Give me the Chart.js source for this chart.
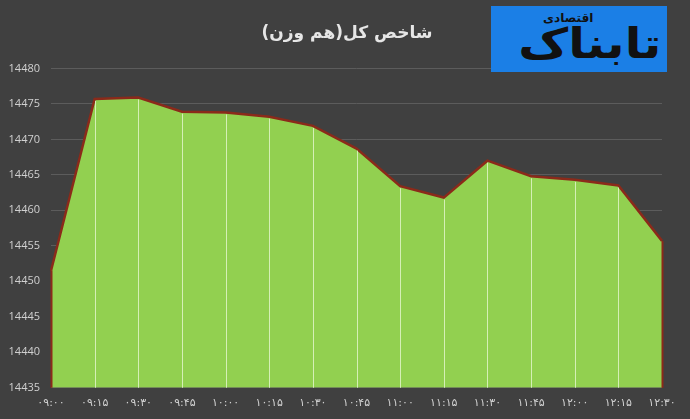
<!DOCTYPE html>
<html>
<head>
<meta charset="utf-8">
<script src="https://cdn.jsdelivr.net/npm/chart.js@4.4.0/dist/chart.umd.min.js"></script>
<style>
  html, body { margin: 0; padding: 0; background: #404040; }
  #wrap { position: relative; width: 690px; height: 419px; }
  #logo {
    position: absolute; left: 491px; top: 6px; width: 176px; height: 66px;
    background: #1b7fe6; overflow: hidden;
  }
  #logo .big {
    position: absolute; right: 6px; top: 13px; font: bold 42px "DejaVu Sans", sans-serif;
    color: #111; direction: rtl; line-height: 50px;
    transform: scaleX(1.16); transform-origin: right center;
  }
  #logo .small {
    position: absolute; left: 52px; top: 5px; font: bold 12px "DejaVu Sans", sans-serif;
    color: #111; direction: rtl;
  }
</style>
</head>
<body>
<div id="wrap">
  <canvas id="chart" width="690" height="419"></canvas>
  <div id="logo"><span class="big">تابناک</span><span class="small">اقتصادی</span></div>
</div>
<script>
var times = ['۰۹:۰۰', '۰۹:۱۵', '۰۹:۳۰', '۰۹:۴۵', '۱۰:۰۰', '۱۰:۱۵', '۱۰:۳۰', '۱۰:۴۵',
             '۱۱:۰۰', '۱۱:۱۵', '۱۱:۳۰', '۱۱:۴۵', '۱۲:۰۰', '۱۲:۱۵', '۱۲:۳۰'];
var indexValues = [14451.5, 14475.7, 14475.9, 14473.9, 14473.8, 14473.2, 14471.9, 14468.7,
                   14463.4, 14461.8, 14467.0, 14464.8, 14464.3, 14463.5, 14455.7];
var yMin = 14435;
var yMax = 14480;
var yStep = 5;
var chartTitle = 'شاخص کل(هم وزن)';

// vertical lines from each point down to the axis
var dropLines = {
  id: 'dropLines',
  afterDatasetsDraw: function(chart) {
    var meta = chart.getDatasetMeta(0);
    var bottom = chart.scales.y.bottom;
    var ctx = chart.ctx;
    ctx.save();
    meta.data.forEach(function(pt, i) {
      var last = i === 0 || i === meta.data.length - 1;
      ctx.beginPath();
      ctx.lineWidth = last ? 2 : 1;
      ctx.strokeStyle = last ? '#8b2a1a' : 'rgba(225,245,200,0.85)';
      ctx.moveTo(Math.round(pt.x) + 0.5, pt.y + (last ? 0 : 2));
      ctx.lineTo(Math.round(pt.x) + 0.5, bottom);
      ctx.stroke();
    });
    ctx.restore();
  }
};

// center the title on the whole canvas, not just the padded box
var titleCenter = {
  id: 'titleCenter',
  afterLayout: function(chart) {
    if (chart.titleBlock) {
      chart.titleBlock.left = 4;
      chart.titleBlock.right = chart.width;
      chart.titleBlock.width = chart.width - 4;
    }
  }
};

var ctx = document.getElementById('chart');
var myChart = new Chart(ctx, {
  type: 'line',
  data: {
    labels: times,
    datasets: [{
      data: indexValues,
      fill: 'start',
      backgroundColor: '#92d050',
      borderColor: '#8b2a1a',
      borderWidth: 2.5,
      pointRadius: 0,
      tension: 0
    }]
  },
  options: {
    responsive: false,
    animation: false,
    layout: { padding: { left: 0, right: 28, top: 0, bottom: 0 } },
    plugins: {
      legend: { display: false },
      tooltip: { enabled: false },
      title: {
        display: true,
        text: chartTitle,
        color: '#e6e6e6',
        font: { family: 'DejaVu Sans', size: 17, weight: 'bold' },
        padding: { top: 23, bottom: 25 },
        align: 'center'
      }
    },
    scales: {
      x: {
        offset: false,
        grid: { display: false, drawTicks: false },
        border: { display: false },
        ticks: {
          color: '#d0d0d0',
          font: { family: 'DejaVu Sans', size: 11 },
          maxRotation: 0,
          autoSkip: false,
          padding: 9
        }
      },
      y: {
        min: yMin,
        max: yMax,
        afterFit: function(scale) { scale.width = 51; },
        grid: { color: '#5c5c5c', lineWidth: 1, drawTicks: false },
        border: { display: false },
        ticks: {
          stepSize: yStep,
          color: '#d0d0d0',
          font: { family: 'Open Sans', size: 11 },
          padding: 11,
          callback: function(v) { return String(v); }
        }
      }
    }
  },
  plugins: [dropLines, titleCenter, {
    id: 'bg',
    beforeDraw: function(chart) {
      chart.ctx.save();
      chart.ctx.fillStyle = '#404040';
      chart.ctx.fillRect(0, 0, chart.width, chart.height);
      chart.ctx.restore();
    }
  }]
});
</script>
</body>
</html>
